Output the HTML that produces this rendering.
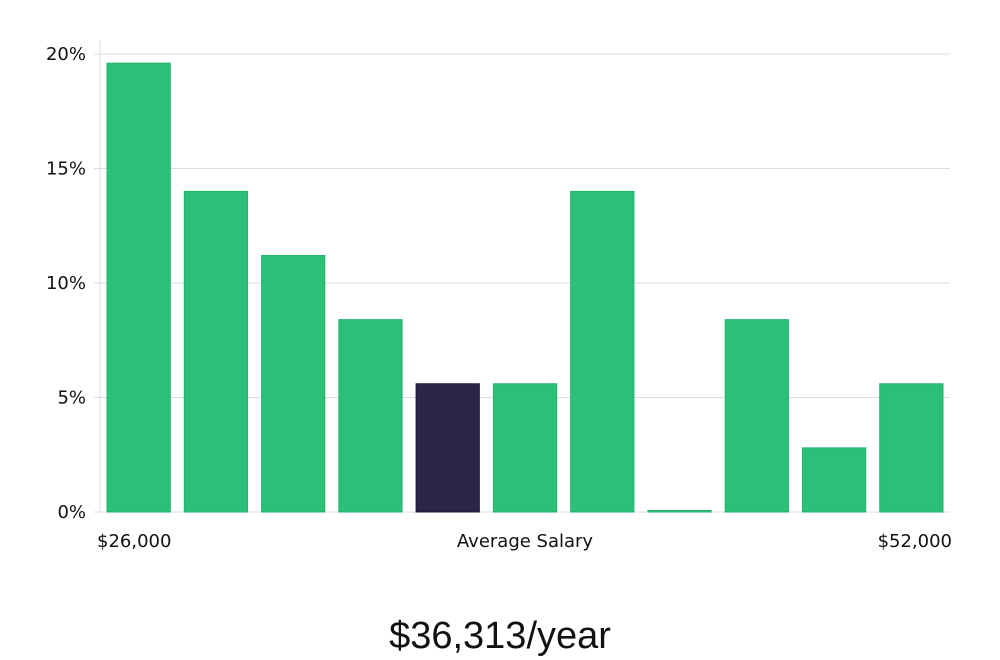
<!DOCTYPE html>
<html><head><meta charset="utf-8"><style>
body{margin:0;background:#fff;width:1000px;height:660px;overflow:hidden}
svg{display:block;font-family:"DejaVu Sans","Liberation Sans",sans-serif}
</style></head><body>
<svg id="chart" width="1000" height="660" viewBox="0 0 1000 660">
<g id="grid"></g><g id="bars"></g><g id="axes"></g>
<text x="97" y="547" font-size="18" fill="#111">$26,000</text>
<text x="525" y="547" font-size="18" fill="#111" text-anchor="middle">Average Salary</text>
<text x="952" y="547" font-size="18" fill="#111" text-anchor="end">$52,000</text>
<text x="500" y="648" font-size="38" fill="#111" text-anchor="middle" font-family="Liberation Sans, sans-serif" font-weight="300">$36,313/year</text>
</svg>
<script>
const values=[19.6,14.0,11.2,8.4,5.6,5.6,14.0,0,8.4,2.8,5.6];
const highlightIndex=[4];
const yTicks=[0,5,10,15,20];
const yTickLabels=["0%","5%","10%","15%","20%"];
const NS="http://www.w3.org/2000/svg";
const x0=100,x1=950,yBase=512,yTop=54;
const y=v=>yBase-(v/20)*(yBase-yTop);
const step=(x1-x0)/values.length, bw=step-14;
const grid=document.getElementById('grid'),bars=document.getElementById('bars'),axes=document.getElementById('axes');
function mk(tag,attrs,parent){const e=document.createElementNS(NS,tag);for(const k in attrs)e.setAttribute(k,attrs[k]);parent.appendChild(e);return e;}
yTicks.forEach((t,i)=>{
 const l=mk('line',{x1:94,x2:x1,y1:y(t),y2:y(t),stroke:'#dcdcdc','stroke-width':1},grid);
 
 
 const tx=mk('text',{x:86,y:y(t)+6,'font-size':18,fill:'#111','text-anchor':'end'},axes);
 tx.textContent=yTickLabels[i];
 
 
});
const ax=mk('line',{x1:x0,x2:x0,y1:40,y2:yBase,stroke:'#dcdcdc','stroke-width':1},axes);


values.forEach((v,i)=>{
 const hl=highlightIndex.includes(i);
 const bx=x0+i*step+7, top=Math.min(y(v),yBase-1.5);
 const r=mk('rect',{x:bx,y:top,width:bw,height:yBase-top,fill:hl?'#29264a':'#2bbf78',stroke:hl?'#1c1a38':'#22b56e','stroke-width':1},bars);
 
 
});
</script>
</body></html>
